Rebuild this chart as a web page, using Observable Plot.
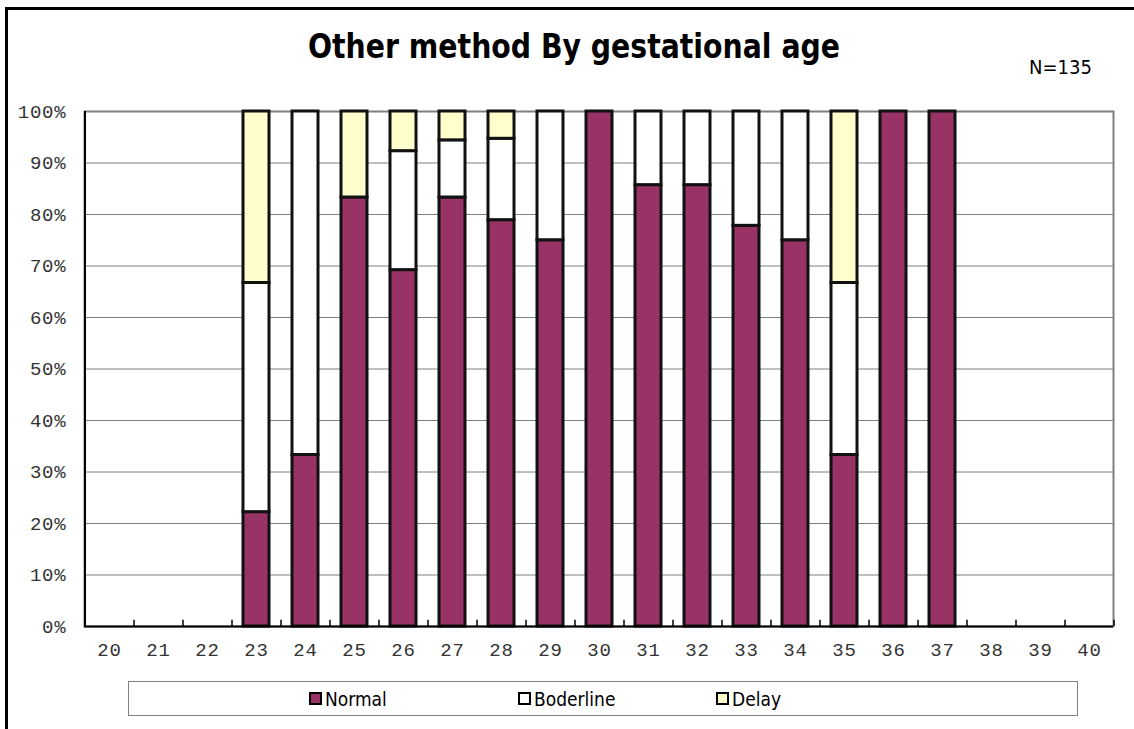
<!DOCTYPE html>
<html>
<head>
<meta charset="utf-8">
<script src="https://cdn.jsdelivr.net/npm/d3@7"></script>
<script src="https://cdn.jsdelivr.net/npm/@observablehq/plot@0.6"></script>
<style>
  html, body { margin: 0; padding: 0; background: #fff; }
  #wrap { position: relative; width: 1134px; height: 729px; overflow: hidden; background: #fff; }
  #border { position: absolute; left: 5px; top: 7px; right: -10px; bottom: -10px; border-top: 3px solid #000; border-left: 3px solid #000; }
  #chart { position: absolute; left: 0; top: 0; }
  #chart svg text { letter-spacing: 0.8px; fill: #333; }
  #title { position: absolute; left: 0; top: 0; }
  #n { position: absolute; left: 1029px; top: 55px; font-family: "DejaVu Sans Condensed", "DejaVu Sans", sans-serif; font-size: 20px; color: #000; }
  #legend { position: absolute; left: 128px; top: 681px; width: 948px; height: 33px; border: 1.5px solid #808080; box-sizing: content-box; }
  .item { position: absolute; top: 0; height: 33px; display: flex; align-items: center; font-family: "DejaVu Sans Condensed", "DejaVu Sans", sans-serif; font-size: 19px; color: #000; }
  .sw { width: 9px; height: 9px; border: 2px solid #000; margin-right: 3px; }
</style>
</head>
<body>
<div id="wrap">
  <div id="chart"></div>
  <svg id="title" width="1134" height="80"><text id="titleText" x="308" y="58" font-family="DejaVu Sans Condensed, DejaVu Sans, sans-serif" font-weight="bold" font-size="33" textLength="532" lengthAdjust="spacingAndGlyphs" fill="#000"></text></svg>
  <div id="n"></div>
  <div id="legend"></div>
  <div id="border"></div>
</div>
<script>
// ---- data ----
const title = "Other method By gestational age";
const nLabel = "N=135";
const ages = [20,21,22,23,24,25,26,27,28,29,30,31,32,33,34,35,36,37,38,39,40];
const seriesNames = ["Normal", "Boderline", "Delay"];
const seriesColors = ["#993366", "#ffffff", "#ffffcc"];
const normal    = [0,0,0,22.2,33.3,83.3,69.2,83.3,78.9,75,100,85.7,85.7,77.8,75,33.3,100,100,0,0,0];
const borderline= [0,0,0,44.5,66.7, 0,  23.1,11.1,15.8,25, 0, 14.3,14.3,22.2,25,33.4, 0, 0, 0,0,0];
const delay     = [0,0,0,33.3, 0,  16.7, 7.7, 5.6, 5.3, 0, 0,  0,   0,   0,  0, 33.3, 0, 0, 0,0,0];
const yTicks = [0,10,20,30,40,50,60,70,80,90,100];
const legendX = [308, 517, 715];

// ---- build table ----
const seriesValues = [normal, borderline, delay];
const rows = [];
seriesNames.forEach((s, si) => {
  ages.forEach((a, i) => {
    const v = seriesValues[si][i];
    if (v > 0) rows.push({age: String(a), series: s, value: v});
  });
});
const cats = ages.map(String);

const W = 1134, H = 680, ML = 84, MR = 21;
const step = (W - ML - MR) / cats.length;

const chart = Plot.plot({
  width: W,
  height: H,
  marginLeft: ML,
  marginRight: MR,
  marginTop: 111,
  marginBottom: H - 626,
  style: {fontFamily: "'Liberation Mono', 'DejaVu Sans Mono', monospace", fontSize: "19px", color: "#333", background: "transparent"},
  x: {domain: cats, paddingInner: 0.47, paddingOuter: 0.235, label: null, tickSize: 0, tickPadding: 16},
  y: {domain: [0, 100], ticks: yTicks, tickFormat: d => d + "%", label: null, tickSize: 0, tickPadding: 18},
  color: {domain: seriesNames, range: seriesColors},
  marks: [
    Plot.ruleY(yTicks.filter(d => d > 0 && d < 100), {stroke: "#808080", strokeWidth: 1}),
    Plot.frame({stroke: "#808080", strokeWidth: 2}),
    Plot.barY(rows, {x: "age", y: "value", fill: "series", stroke: "#111", strokeWidth: 3}),
    Plot.ruleY([0], {stroke: "#000", strokeWidth: 2}),
    Plot.ruleX([cats[0]], {dx: -step / 2, stroke: "#000", strokeWidth: 2}),
    Plot.ruleX(cats.slice(1), {dx: -step / 2, y1: 0, y2: 1.2, stroke: "#000", strokeWidth: 1.5}),
    Plot.ruleX([cats[cats.length - 1]], {dx: step / 2, y1: 0, y2: 1.2, stroke: "#000", strokeWidth: 1.5})
  ]
});
document.getElementById("chart").appendChild(chart);

document.getElementById("titleText").textContent = title;
document.getElementById("n").textContent = nLabel;

const legend = document.getElementById("legend");
seriesNames.forEach((s, i) => {
  const item = document.createElement("div");
  item.className = "item";
  item.style.left = (legendX[i] - 128) + "px";
  const sw = document.createElement("div");
  sw.className = "sw";
  sw.style.background = seriesColors[i];
  const t = document.createElement("span");
  t.textContent = s;
  item.appendChild(sw);
  item.appendChild(t);
  legend.appendChild(item);
});
</script>
</body>
</html>
